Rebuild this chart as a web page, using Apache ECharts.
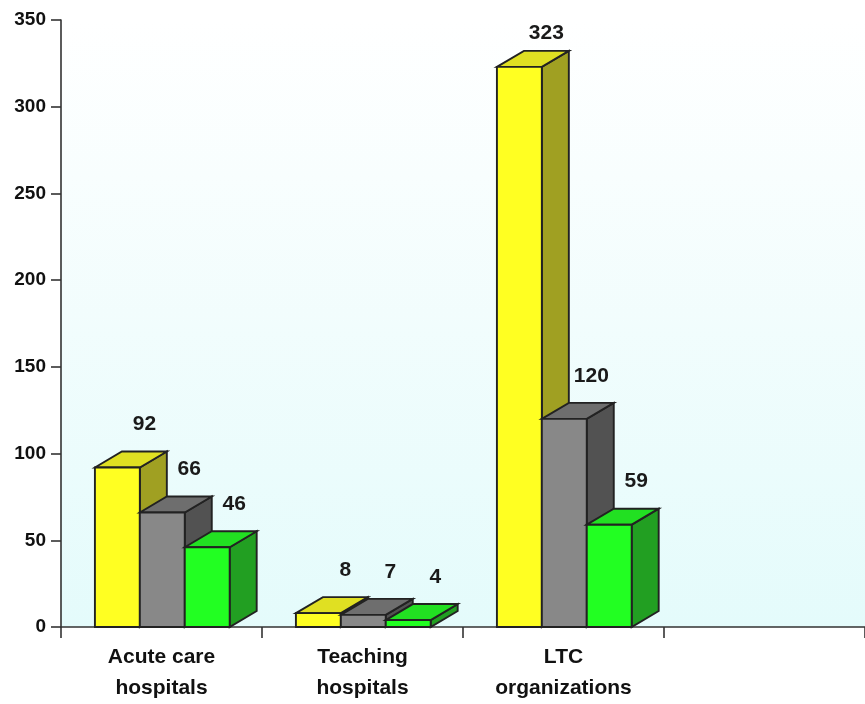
<!DOCTYPE html>
<html>
<head>
<meta charset="utf-8">
<style>
  html, body { margin: 0; padding: 0; background: #ffffff; }
  #chart { width: 865px; height: 704px; }
</style>
<script src="https://cdn.jsdelivr.net/npm/echarts@6/dist/echarts.min.js"></script>
</head>
<body>
<div id="chart"></div>
<script>
// Category labels (the fourth slot is intentionally left empty)
const categories = ['Acute care\nhospitals', 'Teaching\nhospitals', 'LTC\norganizations', ''];

// Values per group, one entry per category
const yellowValues = [92, 8, 323];
const grayValues = [66, 7, 120];
const greenValues = [46, 4, 59];

// Y axis ticks
const yMin = 0;
const yMax = 350;
const yStep = 50;

// Face colours for each box: front, top, side
const palettes = [
  { front: '#ffff22', top: '#e0e022', side: '#a0a022' },
  { front: '#888888', top: '#6e6e6e', side: '#525252' },
  { front: '#22ff22', top: '#22e022', side: '#229f22' }
];

const DEPTH_X = 27;
const DEPTH_Y = 16;
const BAR_FRACTION = 0.2235;
const EDGE = '#222222';
const FONT = '"Liberation Sans", Arial, sans-serif';

function makeRender(seriesIndex) {
  const pal = palettes[seriesIndex];
  return function (params, api) {
    const cat = api.value(0);
    const val = api.value(1);
    const top = api.coord([cat, val]);
    const base = api.coord([cat, 0]);
    const catW = api.size([1, 0])[0];
    const w = catW * BAR_FRACTION;
    const x0 = top[0] - 1.5 * w + seriesIndex * w + 0.8;
    const x1 = x0 + w;
    const yT = top[1];
    const yB = base[1];
    const style = (fill) => ({ fill: fill, stroke: EDGE, lineWidth: 1.9, lineJoin: 'miter' });
    const labelY = Math.max(33, yT - DEPTH_Y - 27);
    return {
      type: 'group',
      children: [
        {
          type: 'polygon',
          shape: { points: [[x1, yT], [x1 + DEPTH_X, yT - DEPTH_Y], [x1 + DEPTH_X, yB - DEPTH_Y], [x1, yB]] },
          style: style(pal.side)
        },
        {
          type: 'polygon',
          shape: { points: [[x0, yT], [x0 + DEPTH_X, yT - DEPTH_Y], [x1 + DEPTH_X, yT - DEPTH_Y], [x1, yT]] },
          style: style(pal.top)
        },
        {
          type: 'rect',
          shape: { x: x0, y: yT, width: w, height: yB - yT },
          style: style(pal.front)
        },
        {
          type: 'text',
          z2: 10,
          style: {
            text: String(val),
            x: (x0 + x1) / 2 + 27,
            y: labelY,
            align: 'center',
            verticalAlign: 'middle',
            fill: '#1a1a1a',
            font: 'bold 21px ' + FONT
          }
        }
      ]
    };
  };
}

function toData(values) {
  return values.map((v, i) => [i, v]);
}

const chart = echarts.init(document.getElementById('chart'), null, { renderer: 'canvas' });

chart.setOption({
  animation: false,
  backgroundColor: '#ffffff',
  grid: {
    left: 61,
    right: 0,
    top: 20,
    bottom: 74,
    show: true,
    borderWidth: 0,
    backgroundColor: {
      type: 'linear', x: 0, y: 0, x2: 0, y2: 1,
      colorStops: [
        { offset: 0, color: '#ffffff' },
        { offset: 1, color: '#e4fbfb' }
      ]
    }
  },
  xAxis: {
    type: 'category',
    data: categories,
    boundaryGap: true,
    axisLine: { show: true, lineStyle: { color: '#333333', width: 1.6 } },
    axisTick: { show: true, interval: 0, alignWithLabel: false, length: 11, lineStyle: { color: '#333333', width: 1.6 } },
    axisLabel: {
      interval: 0,
      margin: 15,
      color: '#111111',
      fontSize: 21,
      fontWeight: 'bold',
      lineHeight: 31,
      fontFamily: FONT
    },
    splitLine: { show: false }
  },
  yAxis: {
    type: 'value',
    min: yMin,
    max: yMax,
    interval: yStep,
    axisLine: { show: true, lineStyle: { color: '#333333', width: 1.6 } },
    axisTick: { show: true, length: 10, lineStyle: { color: '#333333', width: 1.6 } },
    axisLabel: {
      margin: 15,
      color: '#111111',
      fontSize: 19,
      fontWeight: 'bold',
      fontFamily: FONT
    },
    splitLine: { show: false }
  },
  series: [
    { name: 'yellow', type: 'custom', renderItem: makeRender(0), data: toData(yellowValues), encode: { x: 0, y: 1 } },
    { name: 'gray', type: 'custom', renderItem: makeRender(1), data: toData(grayValues), encode: { x: 0, y: 1 } },
    { name: 'green', type: 'custom', renderItem: makeRender(2), data: toData(greenValues), encode: { x: 0, y: 1 } }
  ]
});
</script>
</body>
</html>
